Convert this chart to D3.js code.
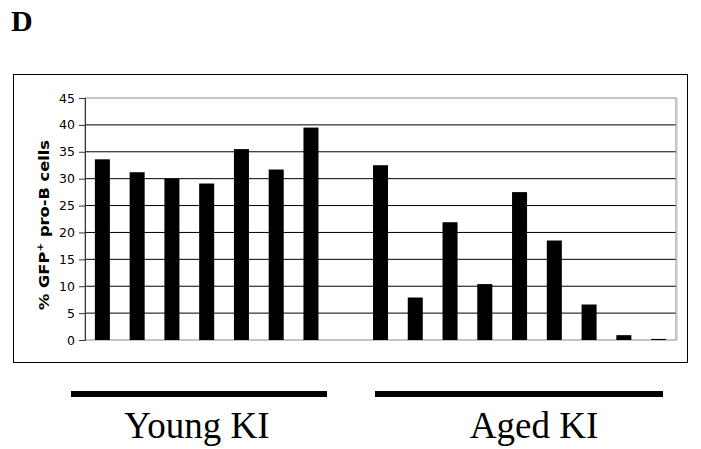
<!DOCTYPE html>
<html>
<head>
<meta charset="utf-8">
<script src="https://cdn.jsdelivr.net/npm/d3@7"></script>
<style>
  html, body { margin: 0; padding: 0; background: #fff; }
  svg { display: block; }
</style>
</head>
<body>
<svg id="chart" width="701" height="449"></svg>
<script>
// Percentage of GFP+ pro-B cells per mouse
const youngMice = ["Y1", "Y2", "Y3", "Y4", "Y5", "Y6", "Y7"];
const youngValues = [33.6, 31.2, 30.0, 29.1, 35.5, 31.7, 39.5];
const agedMice = ["A1", "A2", "A3", "A4", "A5", "A6", "A7", "A8", "A9"];
const agedValues = [32.5, 7.9, 21.9, 10.4, 27.5, 18.5, 6.6, 0.9, 0.2];
const spacer = ["gap"];
const yTicks = [0, 5, 10, 15, 20, 25, 30, 35, 40, 45];
const groupLabels = ["Young KI", "Aged KI"];
const yTitle = "pro-B cells";

const categories = youngMice.concat(spacer, agedMice);
const bars = youngMice.map((id, i) => ({ id, value: youngValues[i] }))
  .concat(agedMice.map((id, i) => ({ id, value: agedValues[i] })));

const svg = d3.select("#chart");

// Layout
const plot = { left: 85, right: 676, top: 98, bottom: 340 };
const frame = { x: 13.5, y: 74.5, w: 674, h: 288 };

const x = d3.scaleBand()
  .domain(categories)
  .range([plot.left, plot.right])
  .paddingInner(0.568)
  .paddingOuter(0.284);

const y = d3.scaleLinear()
  .domain([0, 45])
  .range([plot.bottom, plot.top]);

// Panel letter
svg.append("text")
  .attr("x", 11)
  .attr("y", 31)
  .attr("font-family", "'Liberation Serif', 'Times New Roman', serif")
  .attr("font-weight", "bold")
  .attr("font-size", 30)
  .text("D");

// Chart frame
svg.append("rect")
  .attr("x", frame.x).attr("y", frame.y)
  .attr("width", frame.w).attr("height", frame.h)
  .attr("fill", "none").attr("stroke", "#000").attr("stroke-width", 1);

// Gridlines
svg.append("g")
  .selectAll("line")
  .data(yTicks.filter(t => t > 0 && t < 45))
  .join("line")
  .attr("x1", plot.left).attr("x2", plot.right)
  .attr("y1", d => y(d)).attr("y2", d => y(d))
  .attr("stroke", "#000").attr("stroke-width", 1);

// Plot area border
svg.append("rect")
  .attr("x", plot.left).attr("y", y(45))
  .attr("width", plot.right - plot.left).attr("height", y(0) - y(45))
  .attr("fill", "none").attr("stroke", "#8a8a8a").attr("stroke-width", 1);
svg.append("line")
  .attr("x1", plot.right + 1).attr("x2", plot.right + 1)
  .attr("y1", y(45)).attr("y2", y(0) + 1)
  .attr("stroke", "#c4c4c4").attr("stroke-width", 1);

// Bars
svg.append("g")
  .selectAll("rect")
  .data(bars)
  .join("rect")
  .attr("x", d => x(d.id))
  .attr("width", x.bandwidth())
  .attr("y", d => y(d.value))
  .attr("height", d => y(0) - y(d.value))
  .attr("fill", "#000");

// Y axis
const yAxis = d3.axisLeft(y)
  .tickValues(yTicks)
  .tickSize(6)
  .tickPadding(4)
  .tickFormat(d3.format("d"));
const gy = svg.append("g")
  .attr("transform", `translate(${plot.left},0)`)
  .call(yAxis);
gy.select(".domain").attr("stroke", "#333");
gy.selectAll(".tick line").attr("stroke", "#333");
gy.selectAll(".tick text")
  .attr("font-family", "'DejaVu Sans', Verdana, sans-serif")
  .attr("font-size", 12.5)
  .attr("fill", "#000");

// Y axis title, stretched along its run to span the value range
const titleLen = 170;
const titleG = svg.append("g");
const title = titleG.append("text")
  .attr("text-anchor", "middle")
  .attr("font-family", "'DejaVu Sans', Verdana, sans-serif")
  .attr("font-weight", "bold")
  .attr("font-size", 13.5)
  .attr("fill", "#000");
title.append("tspan").text("% GFP");
title.append("tspan").attr("font-size", 9).attr("dy", -6).text("+");
title.append("tspan").attr("dy", 6).text(" " + yTitle);
const natural = title.node().getComputedTextLength() || titleLen;
titleG.attr("transform",
  `translate(49,${(plot.top + plot.bottom) / 2 + 6}) rotate(-90) scale(${titleLen / natural},1)`);

// Group brackets and labels
const groups = [
  { label: groupLabels[0], x1: 71, x2: 327, cx: 197 },
  { label: groupLabels[1], x1: 375, x2: 663, cx: 534 }
];
const gg = svg.append("g");
gg.selectAll("line")
  .data(groups)
  .join("line")
  .attr("x1", d => d.x1).attr("x2", d => d.x2)
  .attr("y1", 394).attr("y2", 394)
  .attr("stroke", "#000").attr("stroke-width", 6);
gg.selectAll("text")
  .data(groups)
  .join("text")
  .attr("x", d => d.cx)
  .attr("y", 438)
  .attr("text-anchor", "middle")
  .attr("font-family", "'Liberation Serif', 'Times New Roman', serif")
  .attr("font-size", 37)
  .attr("fill", "#000")
  .text(d => d.label);
</script>
</body>
</html>
